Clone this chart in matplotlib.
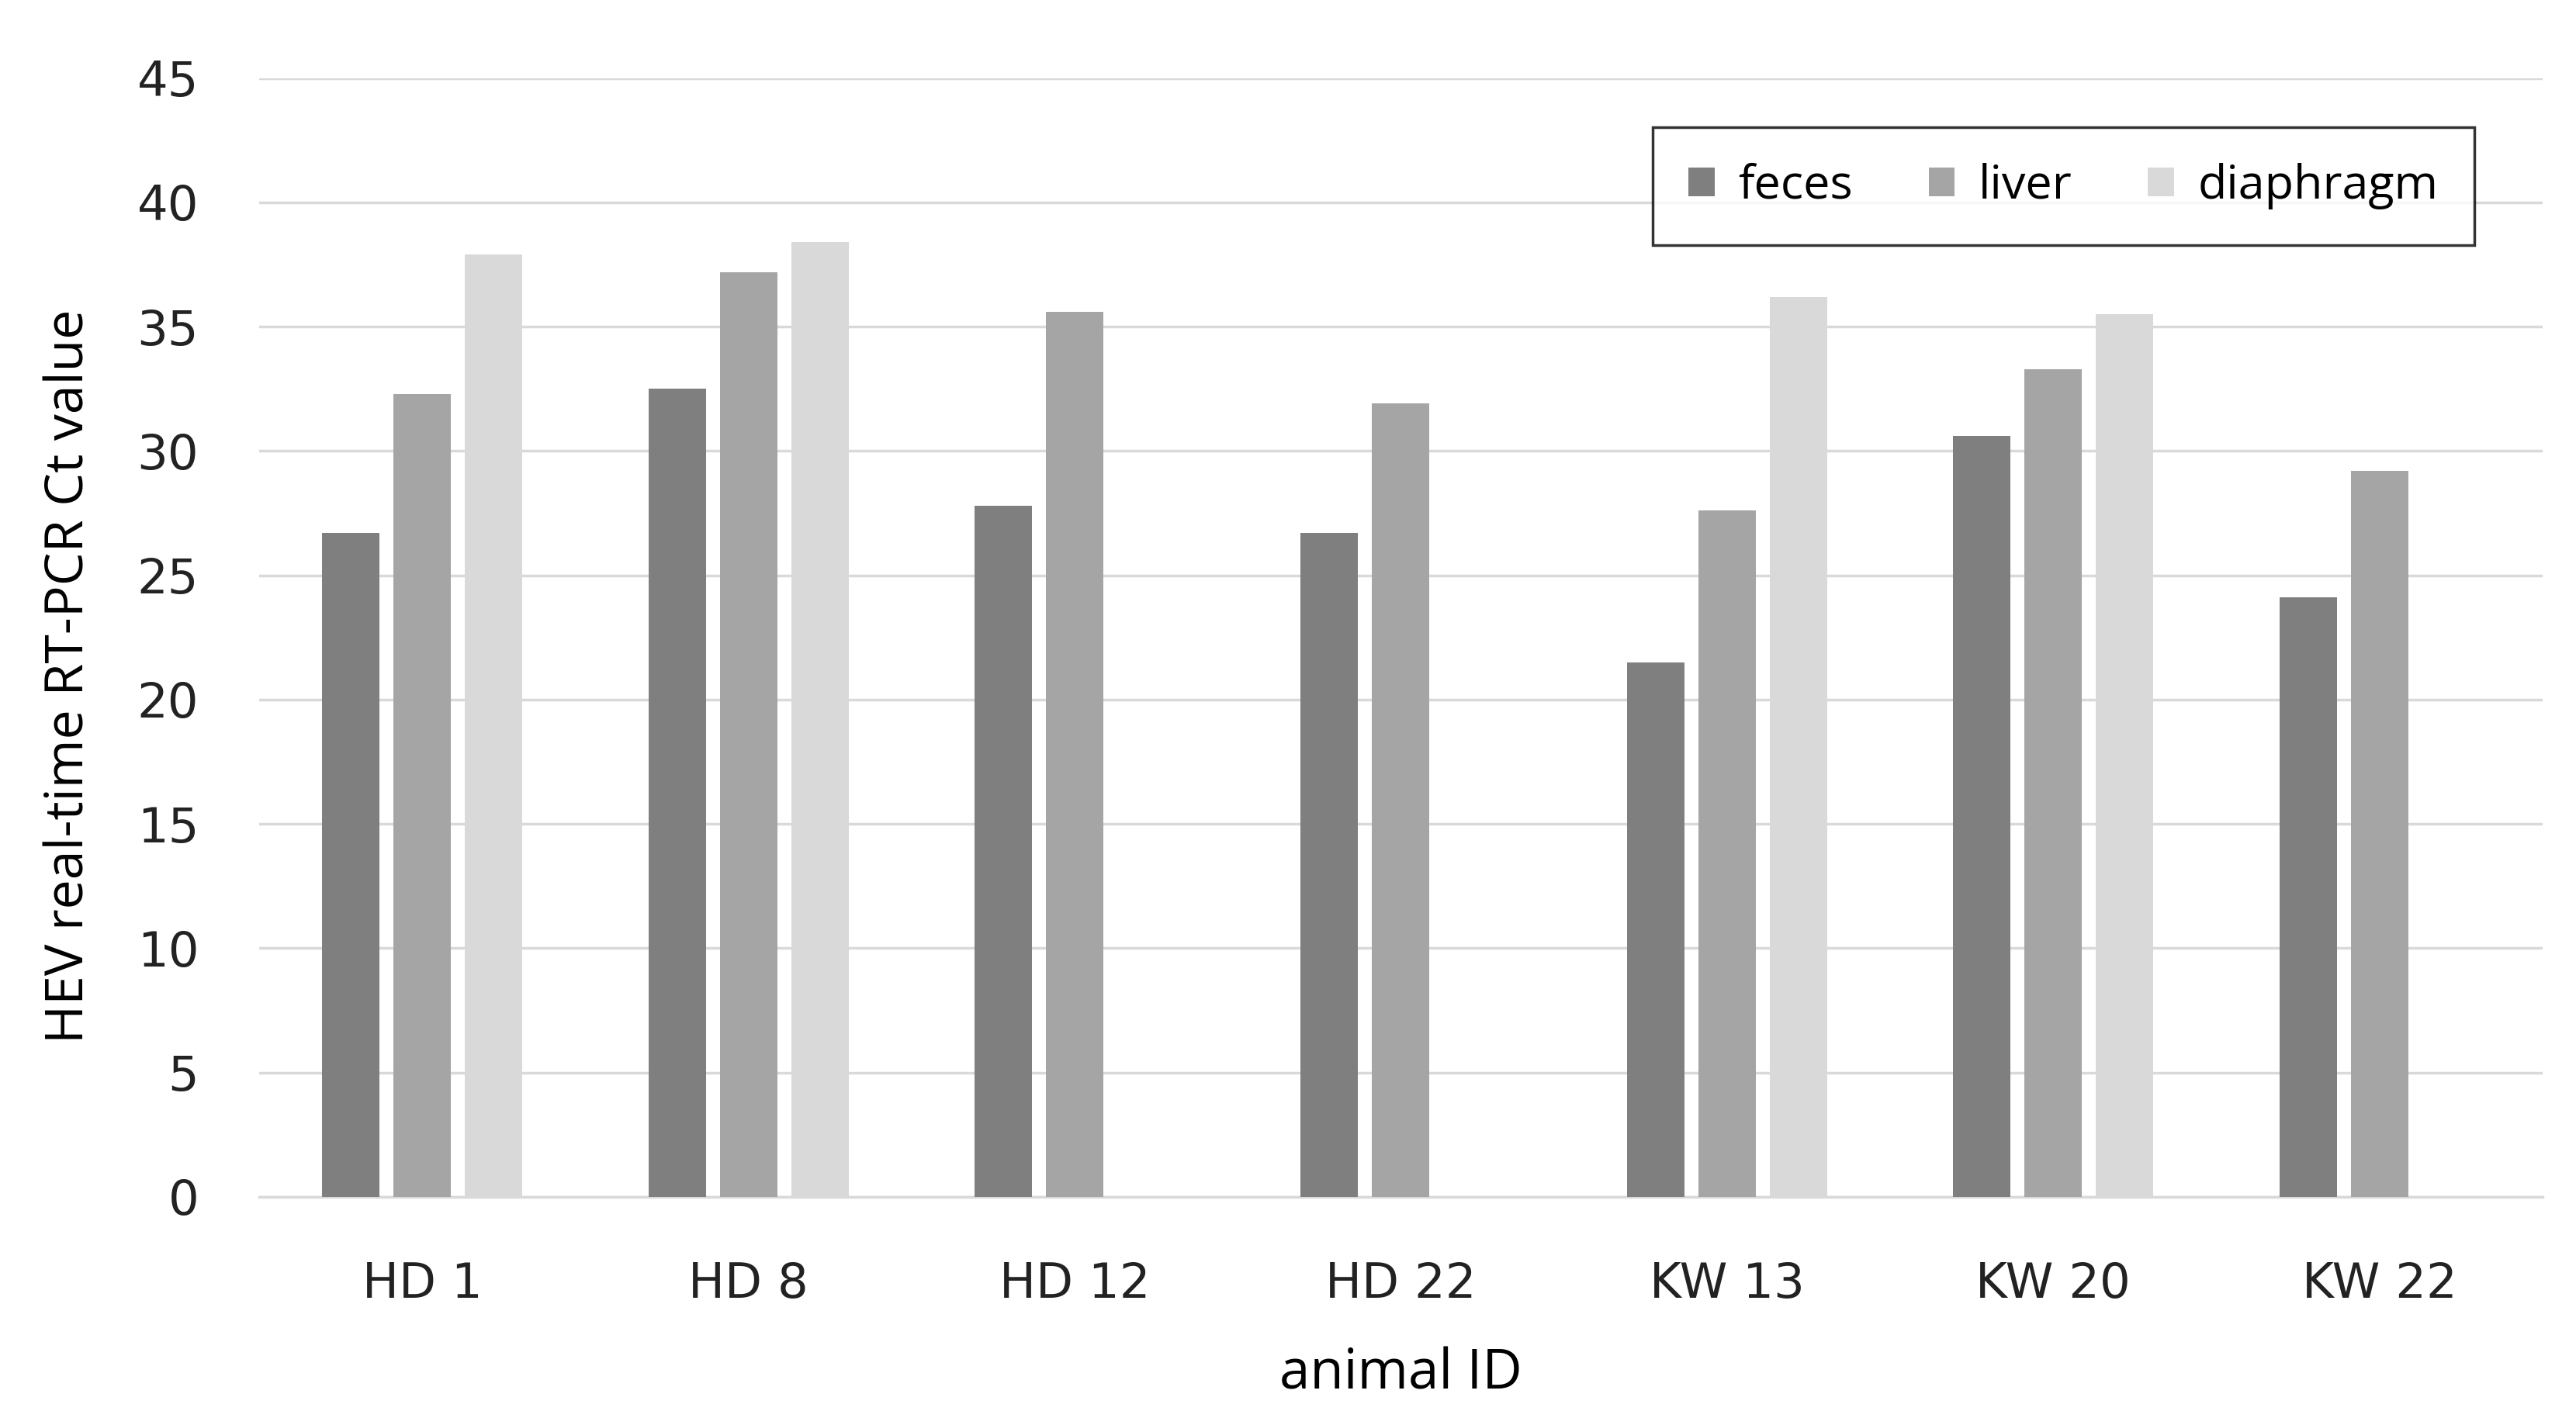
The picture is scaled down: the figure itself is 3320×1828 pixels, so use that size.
import numpy as np
import matplotlib.pyplot as plt

# 데이터
animals = ['HD 1', 'HD 8', 'HD 12', 'HD 22', 'KW 13', 'KW 20', 'KW 22']
feces = [26.7, 32.5, 27.8, 26.7, 21.5, 30.6, 24.1]
liver = [32.3, 37.2, 35.6, 31.9, 27.6, 33.3, 29.2]
diaphragm = [37.9, 38.4, np.nan, np.nan, 36.2, 35.5, np.nan]

series = [('feces', feces, '#7f7f7f'),
          ('liver', liver, '#a5a5a5'),
          ('diaphragm', diaphragm, '#d9d9d9')]

tick_font = ['DejaVu Sans']
label_font = ['Open Sans', 'DejaVu Sans']

fig = plt.figure(figsize=(33.2, 18.28), dpi=100)
ax = fig.add_axes([0.1006, 0.156, 0.8864, 0.789])

x = np.arange(len(animals))
w = 0.176
step = 0.219
for i, (name, vals, col) in enumerate(series):
    ax.bar(x + (i - 1) * step, vals, width=w, color=col, label=name, zorder=3)

ax.set_xlim(-0.5, len(animals) - 0.5)
ax.set_ylim(0, 45)
ax.set_yticks(range(0, 46, 5))
ax.grid(axis='y', color='#d9d9d9', linewidth=2.5, zorder=0)
for s in ['top', 'right', 'left']:
    ax.spines[s].set_visible(False)
ax.spines['bottom'].set_color('#d9d9d9')
ax.spines['bottom'].set_linewidth(2.5)
ax.tick_params(axis='both', length=0, labelsize=45, colors='#222222')
ax.tick_params(axis='x', pad=60)
ax.tick_params(axis='y', pad=56)
ax.set_xticks(x)
ax.set_xticklabels(animals)
for t in ax.get_xticklabels() + ax.get_yticklabels():
    t.set_fontfamily(tick_font)

ax.set_xlabel('animal ID', fontsize=51, family=label_font, labelpad=36)
ax.set_ylabel('HEV real-time RT-PCR Ct value', fontsize=49, family=label_font)
ax.yaxis.set_label_coords(-0.0715, 0.465)

leg = ax.legend(loc='upper right', bbox_to_anchor=(0.970, 0.956), ncol=3,
                prop={'family': label_font, 'size': 44},
                frameon=True, fancybox=False, edgecolor='black',
                handlelength=0.55, handleheight=0.55, handletextpad=0.5,
                columnspacing=1.6, borderpad=0.75, borderaxespad=0)
leg.get_frame().set_linewidth(2.5)

plt.savefig('out.png', dpi=100)
